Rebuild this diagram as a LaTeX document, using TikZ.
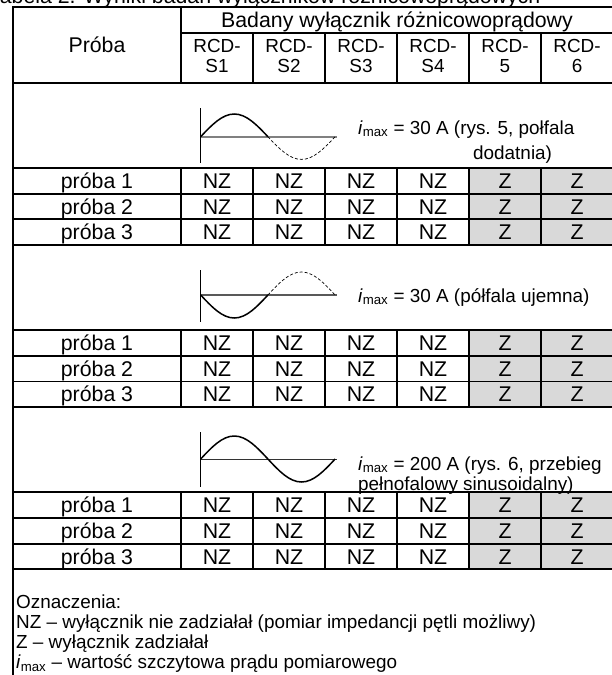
\documentclass[tikz,border=0pt]{standalone}
\usepackage{fontspec}
\setmainfont{Liberation Sans}
\usetikzlibrary{calc}
\newcommand{\rowh}{25.7}
\newcommand{\zoneh}{85}
\newcommand{\lw}{1.9pt}
\newcommand{\imax}{\textit{i}\textsubscript{max}}
\tikzset{
    tabline/.style={line width=\lw, line cap=rect},
    cell/.style={inner sep=0pt, anchor=base, font=\fontsize{21.3}{22}\selectfont},
    rcd/.style={inner sep=0pt, anchor=base},
    txt/.style={inner sep=0pt, anchor=base west},
    wave/.style={line width=1.5pt},
    wavedash/.style={line width=0.7pt, dash pattern=on 3pt off 2pt},
    axis/.style={line width=0.8pt},
    shade/.style={fill=black!15},
}

\begin{document}
\begin{tikzpicture}[x=1pt,y=-1pt,font=\fontsize{18.9}{20}\selectfont]
\useasboundingbox (0,0) rectangle (611,675);
\node[txt, font=\fontsize{21.3}{22}\selectfont] (title) at (-11,3.5) {Tabela 2. Wyniki badań wyłączników różnicowoprądowych};

%Naglowek
\node[cell] (proba) at (97,52.6) {Próba};
\node[cell] (badany) at (397,27.6) {Badany wyłącznik różnicowoprądowy};
\foreach\c/\nr in {1/S1,2/S2,3/S3,4/S4,5/5,6/6} {
    \node[rcd] (rcd\c) at (145+72*\c,52.5) {RCD-};
    \node[rcd] (nr\c) at (145+72*\c,72.5) {\nr};
}
\draw[tabline] (12.8,7) -- (613,7);
\draw[tabline] (181,33) -- (613,33);
\draw[tabline] (12.8,83) -- (613,83);
\draw[tabline] (181,7) -- (181,83);
\foreach\x in {253,325,397,469,541} {
    \draw[tabline] (\x,33) -- (\x,83);
}

%Wiersze prob
\foreach\s/\top in {1/83,2/245.1,3/407.2} {
    \foreach\r in {1,2,3} {
        \pgfmathsetmacro\ya{\top+\zoneh+(\r-1)*\rowh}
        \fill[shade] (469,\ya) rectangle (613,\ya+\rowh);
        \node[cell] (p\s\r) at (97,\ya+\rowh/2+7.6) {próba \r};
        \foreach\c/\val in {1/NZ,2/NZ,3/NZ,4/NZ,5/Z,6/Z} {
            \node[cell] (v\s\r\c) at (145+72*\c,\ya+\rowh/2+7.6) {\val};
        }
    }
    \foreach\r in {0,...,3} {
        \draw[tabline] (12.8,\top+\zoneh+\r*\rowh) -- (613,\top+\zoneh+\r*\rowh);
    }
    \foreach\x in {181,253,325,397,469,541} {
        \draw[tabline] (\x,\top+\zoneh) -- (\x,\top+\zoneh+3*\rowh);
    }
}
\draw[tabline] (12.8,7) -- (12.8,680);

%Przebieg 1 - polfala dodatnia
\draw[axis] (200.7,108) -- (200.7,163);
\draw[line width=1.8pt, gray] (200.7,136.7) -- (336.7,136.7);
\draw[wave] (200.7,136.7) sin (234.3,114) cos (267.9,136.7);
\draw[wavedash] (267.9,136.7) sin (301.5,159.4) cos (335.1,136.7);
\node[txt] (opis1) at (358,134) {\imax{} = 30 A (rys. 5, połfala};
\node[txt] (opis1b) at (473,159) {dodatnia)};

%Przebieg 2 - polfala ujemna
\draw[axis] (200.7,270) -- (200.7,322);
\draw[line width=1.1pt, gray!70!black] (200.7,295) -- (336.7,295);
\draw[wave] (200.7,295) sin (234.3,318) cos (267.9,295);
\draw[wavedash] (267.9,295) sin (301.5,272) cos (335.1,295);
\node[txt] (opis2) at (358,302) {\imax{} = 30 A (półfala ujemna)};

%Przebieg 3 - pelnofalowy
\draw[axis] (200.7,432) -- (200.7,487);
\draw[line width=1pt, black!80] (200.7,459) -- (336.7,459);
\draw[wave] (200.7,459) sin (234.3,436) cos (267.9,459) sin (301.5,482) cos (335.1,459);
\node[txt] (opis3) at (358,470) {\imax{} = 200 A (rys. 6, przebieg};
\node[txt] (opis3b) at (358,490) {pełnofalowy sinusoidalny)};

%Oznaczenia
\node[txt] (ozn) at (16,608.5) {Oznaczenia:};
\node[txt] (leg1) at (16,628.5) {NZ – wyłącznik nie zadziałał (pomiar impedancji pętli możliwy)};
\node[txt] (leg2) at (16,648.5) {Z – wyłącznik zadziałał};
\node[txt] (leg3) at (16,668.5) {\imax{} – wartość szczytowa prądu pomiarowego};
\end{tikzpicture}
\end{document}
